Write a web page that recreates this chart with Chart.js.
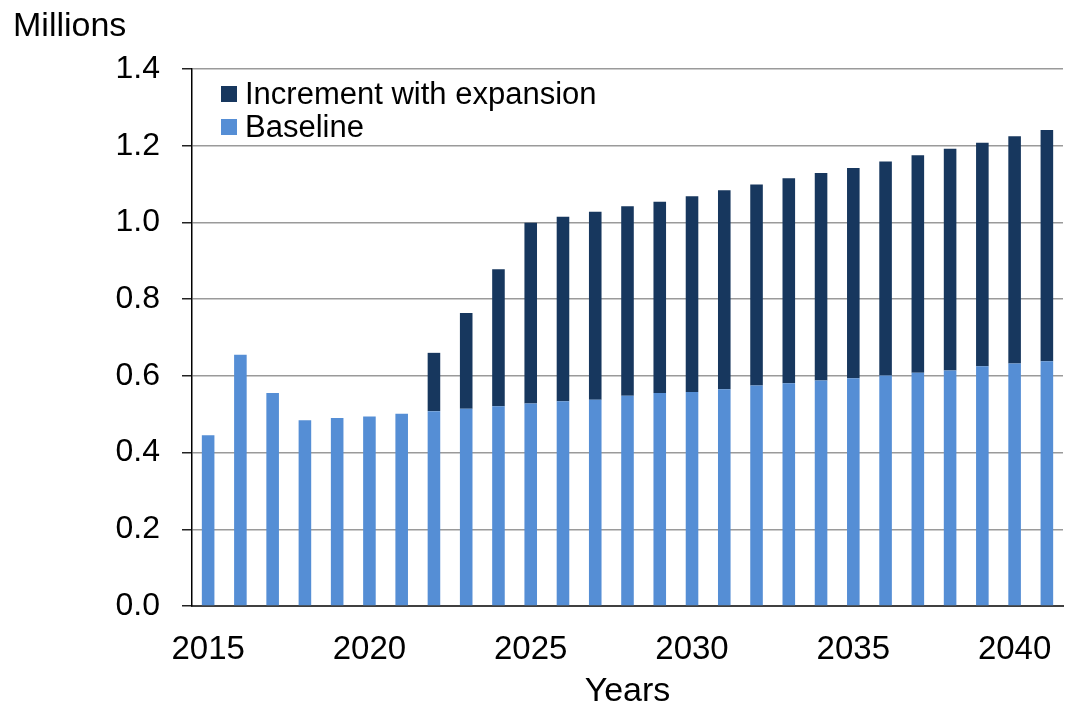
<!DOCTYPE html>
<html lang="en">
  <head>
    <meta charset="UTF-8" />
    <title>Baseline and expansion</title>
    <script src="https://cdn.jsdelivr.net/npm/chart.js@4.4.0/dist/chart.umd.min.js"></script>
    <style>
      html, body { margin: 0; padding: 0; background: #fff; }
      #wrap { width: 1070px; height: 708px; }
    </style>
  </head>
  <body>
    <div id="wrap"><canvas id="myChart" width="1070" height="708"></canvas></div>

    <script>
// data (millions)
const years = [2015, 2016, 2017, 2018, 2019, 2020, 2021, 2022, 2023, 2024, 2025, 2026, 2027, 2028,
               2029, 2030, 2031, 2032, 2033, 2034, 2035, 2036, 2037, 2038, 2039, 2040, 2041];
const baseline = [0.445, 0.655, 0.555, 0.484, 0.490, 0.494, 0.501, 0.508, 0.514, 0.521, 0.528, 0.534, 0.538, 0.548,
                  0.555, 0.558, 0.565, 0.575, 0.581, 0.588, 0.594, 0.601, 0.608, 0.614, 0.625, 0.632, 0.638];
const increment = [0, 0, 0, 0, 0, 0, 0, 0.152, 0.250, 0.357, 0.471, 0.481, 0.490, 0.494,
                   0.499, 0.510, 0.519, 0.524, 0.534, 0.541, 0.548, 0.558, 0.567, 0.578, 0.583, 0.593, 0.603];
const yTicks = [0, 0.2, 0.4, 0.6, 0.8, 1.0, 1.2, 1.4];

const FONT = "'Liberation Sans', Arial, sans-serif";
const lightBlue = '#558ed5';
const navy = '#17375e';

// "Millions" label and the legend box drawn inside the plot
const extras = {
  id: 'extras',
  afterDraw(chart) {
    const ctx = chart.ctx;
    ctx.save();
    ctx.fillStyle = '#000';
    ctx.font = '34px ' + FONT;
    ctx.textBaseline = 'alphabetic';
    ctx.textAlign = 'left';
    ctx.fillText('Millions', 13, 36);

    const items = chart.data.datasets.slice().reverse();
    ctx.font = '31px ' + FONT;
    ctx.textBaseline = 'middle';
    items.forEach((ds, i) => {
      const y = 94 + i * 33;
      ctx.fillStyle = ds.backgroundColor;
      ctx.fillRect(221, y - 8, 16, 16);
      ctx.fillStyle = '#000';
      ctx.fillText(ds.label, 245, y + 1);
    });
    ctx.restore();
  }
};

const ctx = document.getElementById('myChart').getContext('2d');
const myChart = new Chart(ctx, {
  type: 'bar',
  data: {
    labels: years,
    datasets: [
      {
        label: 'Baseline',
        data: baseline,
        backgroundColor: lightBlue,
        borderWidth: 0
      },
      {
        label: 'Increment with expansion',
        data: increment,
        backgroundColor: navy,
        borderWidth: 0
      }
    ]
  },
  options: {
    responsive: false,
    animation: false,
    layout: { padding: { top: 69, right: 7, left: 0, bottom: 0 } },
    datasets: { bar: { barPercentage: 1, categoryPercentage: 0.39 } },
    plugins: {
      legend: { display: false },
      tooltip: { enabled: false }
    },
    scales: {
      x: {
        stacked: true,
        afterFit(scale) {
          scale.height = 102;
        },
        grid: { display: false },
        border: { display: true, color: '#404040', width: 2 },
        ticks: {
          autoSkip: false,
          maxRotation: 0,
          padding: 16,
          color: '#000',
          font: { family: FONT, size: 33 },
          callback: function (value, index) {
            const yr = years[index];
            return yr % 5 === 0 ? String(yr) : '';
          }
        },
        title: {
          display: true,
          text: 'Years',
          color: '#000',
          font: { family: FONT, size: 34 },
          padding: { top: 0, bottom: -4 }
        }
      },
      y: {
        stacked: true,
        min: 0,
        max: 1.4,
        afterBuildTicks(scale) {
          scale.ticks = yTicks.map(v => ({ value: v }));
        },
        afterFit(scale) {
          scale.width = 192;
        },
        grid: {
          color: '#9a9a9a',
          lineWidth: 1.5,
          tickLength: 10,
          tickColor: '#222',
          tickWidth: 1.5
        },
        border: { display: true, color: '#000', width: 1.5 },
        ticks: {
          padding: 22,
          color: '#000',
          font: { family: FONT, size: 32 },
          callback: v => v.toFixed(1)
        }
      }
    }
  },
  plugins: [extras]
});
    </script>
  </body>
</html>
